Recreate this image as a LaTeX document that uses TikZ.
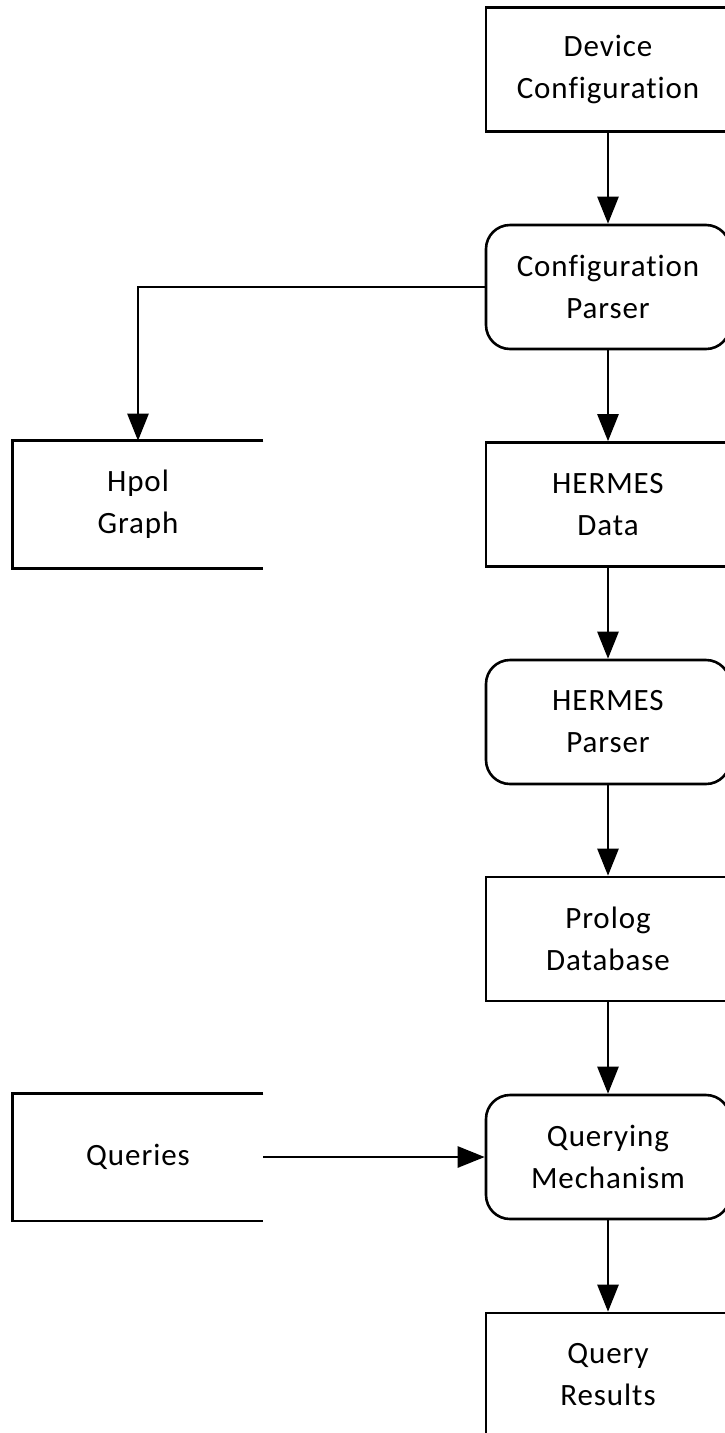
\documentclass[tikz,border=0pt]{standalone}
\usepackage{fontspec}
\setmainfont{Carlito}[Ligatures=NoCommon, LetterSpace=3]
\usetikzlibrary{arrows.meta}
\begin{document}
\begin{tikzpicture}[x=1pt,y=-1pt,
  line width=2.6pt,
  every node/.style={font=\fontsize{31}{42}\selectfont, align=center, inner sep=0pt},
  store/.style={draw, rectangle, minimum width=244pt, minimum height=124pt},
  proc/.style={draw, rectangle, rounded corners=24pt, minimum width=244pt, minimum height=124pt},
  ext/.style={rectangle, minimum width=248pt, minimum height=125pt},
  flow/.style={-{Triangle[length=27pt,width=21pt]}}]
\useasboundingbox (0,0) rectangle (725,1433);
\clip (0,0) rectangle (725,1433);

% main column
\node[store] (dev)   at (608,69.5)  {Device\\Configuration};
\node[proc]  (cp)    at (608,287)   {Configuration\\Parser};
\node[store] (hdata) at (608,504.5) {HERMES\\Data};
\node[proc]  (hp)    at (608,722)   {HERMES\\Parser};
\node[store] (pdb)   at (608,939)   {Prolog\\Database};
\node[proc]  (qm)    at (608,1157)  {Querying\\Mechanism};
\node[store] (qr)    at (608,1375)  {Query\\Results};

% side entities, open on the right
\node[ext] (hpol) at (138,504.5) {Hpol\\Graph};
\node[ext] (qs)   at (138,1157)  {Queries};
\draw (hpol.north east) -- (hpol.north west) -- (hpol.south west) -- (hpol.south east);
\draw (qs.north east) -- (qs.north west) -- (qs.south west) -- (qs.south east);

% connectors
\draw[flow] (dev) -- (cp);
\draw[flow] (cp) -- (hdata);
\draw[flow] (cp.west) -| (hpol.north);
\draw[flow] (hdata) -- (hp);
\draw[flow] (hp) -- (pdb);
\draw[flow] (pdb) -- (qm);
\draw[flow] (qs.east) -- (qm.west);
\draw[flow] (qm) -- (qr);
\end{tikzpicture}
\end{document}
